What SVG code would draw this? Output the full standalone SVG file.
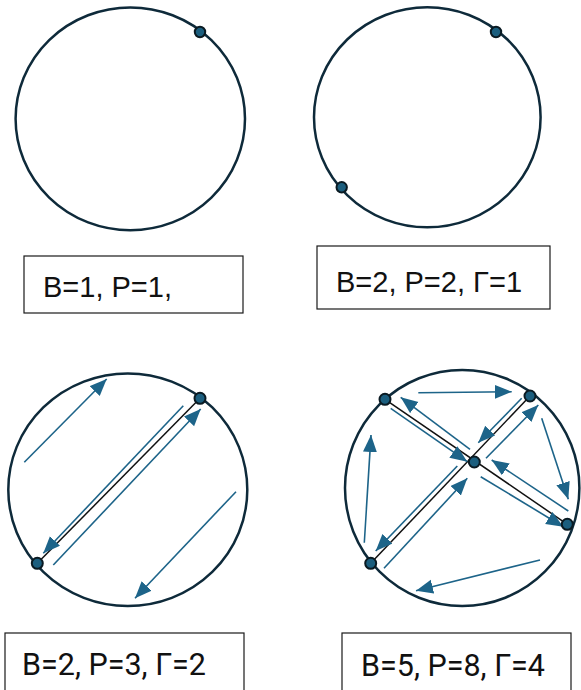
<svg xmlns="http://www.w3.org/2000/svg" width="581" height="690" viewBox="0 0 581 690">
<style>
.ring{fill:none;stroke:#0e2a3a;stroke-width:2.5}
.dot{fill:#1b5e7e;stroke:#0a1a22;stroke-width:2}
.box{fill:#fff;stroke:#1a1a1a;stroke-width:1.2}
.lbl{font-family:"Liberation Sans",Arial,sans-serif;font-size:29px;fill:#111}
.lbl2{font-family:Roboto,"Liberation Sans",sans-serif;font-size:30.5px;fill:#111}
.chord{stroke:#111;stroke-width:1.5;fill:none}
.arr{stroke:#1d6489;stroke-width:1.6;fill:none;marker-end:url(#ah)}
</style>
<defs>
<marker id="ah" markerUnits="userSpaceOnUse" markerWidth="18" markerHeight="15" refX="17" refY="7" orient="auto">
<path d="M0,0 L17,7 L0,14 z" fill="#1d6489"/>
</marker>
</defs>
<rect width="581" height="690" fill="#fff"/>

<g id="panel1">
<ellipse class="ring" cx="130.3" cy="118.8" rx="114.7" ry="111.4"/>
<circle class="dot" cx="200" cy="32" r="5.2"/>
</g>
<g id="label1">
<rect class="box" x="24" y="256" width="219" height="57"/>
<text class="lbl" x="43" y="296.5">B=1, P=1,</text>
</g>

<g id="panel2">
<ellipse class="ring" cx="427.3" cy="117.3" rx="113.3" ry="110"/>
<circle class="dot" cx="496" cy="32" r="5.2"/>
<circle class="dot" cx="341.7" cy="187.3" r="5.2"/>
</g>
<g id="label2">
<rect class="box" x="317" y="246" width="233" height="63"/>
<text class="lbl" x="336" y="292.3">B=2, P=2, Γ=1</text>
</g>

<g id="panel3">
<ellipse class="ring" cx="127.8" cy="489.7" rx="119.5" ry="116.3"/>
</g>
<g id="connectors3">
<line class="chord" x1="200" y1="398.3" x2="37.3" y2="563.3"/>
<line class="arr" x1="24.3" y1="462.3" x2="106.7" y2="379"/>
<line class="arr" x1="183.3" y1="405.7" x2="43.3" y2="553.3"/>
<line class="arr" x1="53.3" y1="565" x2="200.7" y2="409"/>
<line class="arr" x1="236" y1="491.7" x2="135" y2="598.3"/>
</g>
<g id="dots3">
<circle class="dot" cx="200" cy="398.3" r="5.5"/>
<circle class="dot" cx="37.3" cy="563.3" r="5.5"/>
</g>
<g id="label3">
<rect class="box" x="5" y="633" width="239" height="70"/>
<text class="lbl2" x="22" y="675">B=2, P=3, Γ=2</text>
</g>

<g id="panel4">
<ellipse class="ring" cx="462.2" cy="488" rx="117.2" ry="118"/>
</g>
<g id="connectors4">
<line class="chord" x1="385" y1="399.3" x2="567.3" y2="524.3"/>
<line class="chord" x1="530" y1="396" x2="370.7" y2="563.3"/>
<line class="arr" x1="418.3" y1="392.7" x2="511.7" y2="391.7"/>
<line class="arr" x1="470" y1="449.3" x2="400.7" y2="397.3"/>
<line class="arr" x1="390.7" y1="408.3" x2="467.3" y2="461.7"/>
<line class="arr" x1="521.7" y1="398.3" x2="478.3" y2="442.7"/>
<line class="arr" x1="486" y1="458.3" x2="538.3" y2="405"/>
<line class="arr" x1="541.7" y1="418.3" x2="568.3" y2="499.3"/>
<line class="arr" x1="568.3" y1="511" x2="491.7" y2="460"/>
<line class="arr" x1="480.7" y1="476.7" x2="563.3" y2="526.7"/>
<line class="arr" x1="457.3" y1="466" x2="375.7" y2="551"/>
<line class="arr" x1="384" y1="568.3" x2="467.3" y2="478.3"/>
<line class="arr" x1="364.3" y1="542.7" x2="371" y2="435"/>
<line class="arr" x1="540" y1="560" x2="416" y2="590.7"/>
</g>
<g id="dots4">
<circle class="dot" cx="385" cy="399.3" r="5.5"/>
<circle class="dot" cx="530" cy="396" r="5.5"/>
<circle class="dot" cx="474.3" cy="462" r="5.5"/>
<circle class="dot" cx="567.3" cy="524.3" r="5.5"/>
<circle class="dot" cx="370.7" cy="563.3" r="5.5"/>
</g>
<g id="label4">
<rect class="box" x="342" y="633" width="229" height="70"/>
<text class="lbl2" x="361" y="675.5">B=5, P=8, Γ=4</text>
</g>
</svg>
